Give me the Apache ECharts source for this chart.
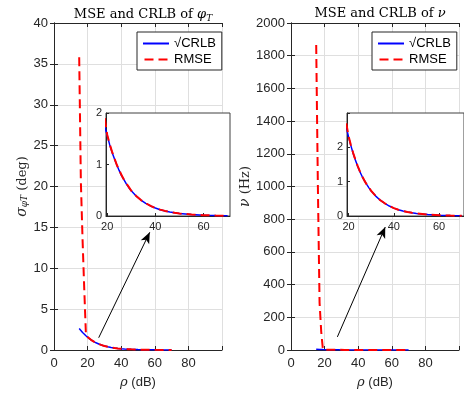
<!DOCTYPE html>
<html><head><meta charset="utf-8">
<script src="https://cdn.jsdelivr.net/npm/echarts@6/dist/echarts.min.js"></script>
<style>html,body{margin:0;padding:0;background:#fff}#c{width:464px;height:397px}</style>
</head><body><div id="c"></div>
<script>
// SNR grid (dB)
const snr = [15,16,17,18,19,20,21,22,23,24,25,26,27,28,29,30,32,34,36,38,40,42,44,46,48,50,55,60,65,70];
// sqrt(CRLB) and RMSE of phi_T (deg)
const crlbPhi = [2.62,2.38,2.14,1.93,1.74,1.56,1.39,1.24,1.11,0.99,0.88,0.78,0.70,0.62,0.55,0.49,0.39,0.31,0.245,0.195,0.155,0.123,0.098,0.078,0.062,0.049,0.028,0.016,0.009,0.005];
const rmsePhi = [35.8,20.5,13.5,7.5,1.9,1.58,1.40,1.25,1.12,0.99,0.89,0.79,0.70,0.63,0.56,0.49,0.39,0.31,0.25,0.196,0.156,0.124,0.099,0.079,0.062,0.050,0.028,0.016,0.009,0.005];
// sqrt(CRLB) and RMSE of nu (Hz)
const crlbNu = [4.1,3.65,3.25,2.9,2.58,2.30,2.05,1.83,1.63,1.45,1.29,1.15,1.03,0.92,0.82,0.73,0.58,0.46,0.365,0.29,0.23,0.183,0.146,0.116,0.092,0.073,0.041,0.023,0.013,0.007];
const rmseNu = [1865,1000,290,110,2.7,2.32,2.07,1.84,1.64,1.46,1.30,1.16,1.03,0.92,0.83,0.73,0.58,0.46,0.37,0.29,0.23,0.184,0.147,0.116,0.093,0.073,0.041,0.023,0.013,0.007];
// tick labels
const xTicks = [0,20,40,60,80];
const insetXTicks = [20,40,60];
const insetYTicks = [0,1,2];
const names = ['\u221ACRLB','RMSE'];
// arrow annotations [tail, head] in data coords of main axes
const arrowPhi = [[26.6,1.5],[57,14.4]];
const arrowNu = [[27.6,80],[56.1,752]];

const pairs = (ys, from) => snr.map((x,i)=>[x, ys[i]]).filter(p => p[0] >= (from||0));
const AX = '#262626';
const FONT = "'Liberation Sans', Arial, sans-serif";
const SERIF = "'DejaVu Serif', 'Liberation Serif', serif";

function mainX(g, top){
  return {type:'value', gridIndex:g, min:0, max:100, interval:20, position: top?'top':'bottom',
    axisLine:{show:true, onZero:false, lineStyle:{color:AX, width:1}},
    axisTick:{show:true, inside:true, length:4, lineStyle:{color:AX}},
    axisLabel:{show:!top, color:AX, fontFamily:FONT, fontSize:13, margin:7,
      formatter:(v)=> xTicks.includes(v)? String(v): ''},
    splitLine:{show:!top, lineStyle:{color:'#dfdfdf', width:1}},
    name: top? '' : '{i|\u03C1} (dB)', nameLocation:'middle', nameGap:26,
    nameTextStyle:{color:AX, fontFamily:FONT, fontSize:13, rich:{i:{fontFamily:SERIF, fontStyle:'italic', fontSize:13, color:AX}}}
  };
}
function mainY(g, right, max, interval, name, gap){
  return {type:'value', gridIndex:g, min:0, max:max, interval:interval, position: right?'right':'left',
    axisLine:{show:true, lineStyle:{color:AX, width:1}},
    axisTick:{show:true, inside:true, length:4, lineStyle:{color:AX}},
    axisLabel:{show:!right, color:AX, fontFamily:FONT, fontSize:13, margin:6, formatter:(v)=>String(v)},
    splitLine:{show:!right, lineStyle:{color:'#dfdfdf', width:1}},
    name: right?'':name, nameLocation:'middle', nameGap:gap, nameRotate:90,
    nameTextStyle:{color:AX, fontFamily:SERIF, fontSize:13,
      rich:{i:{fontFamily:SERIF, fontStyle:'italic', fontSize:14, color:AX},
            s:{fontFamily:SERIF, fontStyle:'italic', fontSize:9, color:AX, padding:[6,0,0,0]}}}
  };
}
function insetX(g, min, max){
  return {type:'value', gridIndex:g, min:min, max:max, z:11,
    axisLine:{show:true, onZero:false, lineStyle:{color:AX, width:1}},
    axisTick:{show:true, inside:true, length:3, customValues:insetXTicks, lineStyle:{color:AX}},
    axisLabel:{show:true, color:AX, fontFamily:FONT, fontSize:11, margin:5, customValues:insetXTicks},
    splitLine:{show:false}};
}
function insetY(g, max){
  return {type:'value', gridIndex:g, min:0, max:max, interval:1, z:11,
    axisLine:{show:true, lineStyle:{color:AX, width:1}},
    axisTick:{show:true, inside:true, length:3, lineStyle:{color:AX}},
    axisLabel:{show:true, color:AX, fontFamily:FONT, fontSize:11, margin:4,
      formatter:(v)=> insetYTicks.includes(v)? String(v):''},
    splitLine:{show:false}};
}
function lineS(name, xi, yi, data, inset){
  const red = name==='RMSE';
  return {type:'line', name:name, xAxisIndex:xi, yAxisIndex:yi, data:data, symbol:'none', showSymbol:false,
    z: inset? (red?13:12) : (red?4:3), clip:true, animation:false,
    lineStyle: red? {color:'#ff0000', width:2, type:[9,5]} : {color:'#0000ff', width:1.5},
    itemStyle:{color: red?'#ff0000':'#0000ff'}};
}
function arrowS(xi, yi, ar){
  return {type:'line', xAxisIndex:xi, yAxisIndex:yi, data:[], symbol:'none', z:5, animation:false,
    markLine:{silent:true, animation:false, symbol:['none','arrow'], symbolSize:[7,11],
      label:{show:false}, lineStyle:{color:'#000', width:1, type:'solid'},
      data:[[{coord:ar[0]},{coord:ar[1]}]]}};
}
function legend(left){
  return {data:[
      {name:names[0], icon:'path://M0,0H26V2H0Z', itemStyle:{color:'#0000ff'}},
      {name:names[1], icon:'path://M0,0H9V2H0Z M14,0H23V2H14Z', itemStyle:{color:'#ff0000'}}],
    orient:'vertical', left:left, top:32, padding:[4,6,3,6], itemGap:1,
    itemWidth:26, itemHeight:2, backgroundColor:'#fff', borderColor:AX, borderWidth:1, borderRadius:0,
    textStyle:{color:'#000', fontFamily:FONT, fontSize:13, lineHeight:15}, z:20};
}

const chart = echarts.init(document.getElementById('c'), null, {renderer:'canvas'});
chart.setOption({
  animation:false,
  backgroundColor:'#fff',
  title:[
    {text:'MSE and CRLB of {i|\u03C6}{s|T}', left:138, top:2, textAlign:'center',
     textStyle:{fontFamily:SERIF, fontSize:13, fontWeight:'normal', color:'#000',
       rich:{i:{fontFamily:SERIF, fontStyle:'italic', fontSize:13, color:'#000'},
             s:{fontFamily:SERIF, fontStyle:'italic', fontSize:9, color:'#000', padding:[7,0,0,0]}}}},
    {text:'MSE and CRLB of {i|\u03BD}', left:375, top:2, textAlign:'center',
     textStyle:{fontFamily:SERIF, fontSize:13, fontWeight:'normal', color:'#000',
       rich:{i:{fontFamily:SERIF, fontStyle:'italic', fontSize:13, color:'#000'}}}}
  ],
  legend:[legend(137), legend(372)],
  grid:[
    {left:54, top:23, width:168, height:327, show:false},
    {left:106, top:113, width:124, height:103, show:true, backgroundColor:'#fff', borderColor:'#404040', borderWidth:1, z:10},
    {left:291, top:23, width:168, height:327, show:false},
    {left:347, top:113, width:121, height:103, show:true, backgroundColor:'#fff', borderColor:'#404040', borderWidth:1, z:10}
  ],
  xAxis:[mainX(0,false), mainX(0,true), insetX(1,19.5,71), mainX(2,false), mainX(2,true), insetX(3,19.3,71)],
  yAxis:[
    mainY(0,false,40,5,'{i|\u03C3}{s|\u03C6T} (deg)',23), mainY(0,true,40,5,'',0), insetY(1,2),
    mainY(2,false,2000,200,'{i|\u03BD} (Hz)',34), mainY(2,true,2000,200,'',0), insetY(3,3)
  ],
  series:[
    lineS(names[0],0,0,pairs(crlbPhi),false), lineS(names[1],0,0,pairs(rmsePhi),false),
    lineS(names[0],2,2,pairs(crlbPhi,19),true), lineS(names[1],2,2,pairs(rmsePhi,19),true),
    lineS(names[0],3,3,pairs(crlbNu),false), lineS(names[1],3,3,pairs(rmseNu),false),
    lineS(names[0],5,5,pairs(crlbNu,19),true), lineS(names[1],5,5,pairs(rmseNu,19),true),
    arrowS(0,0,arrowPhi), arrowS(3,3,arrowNu)
  ]
});
</script></body></html>
